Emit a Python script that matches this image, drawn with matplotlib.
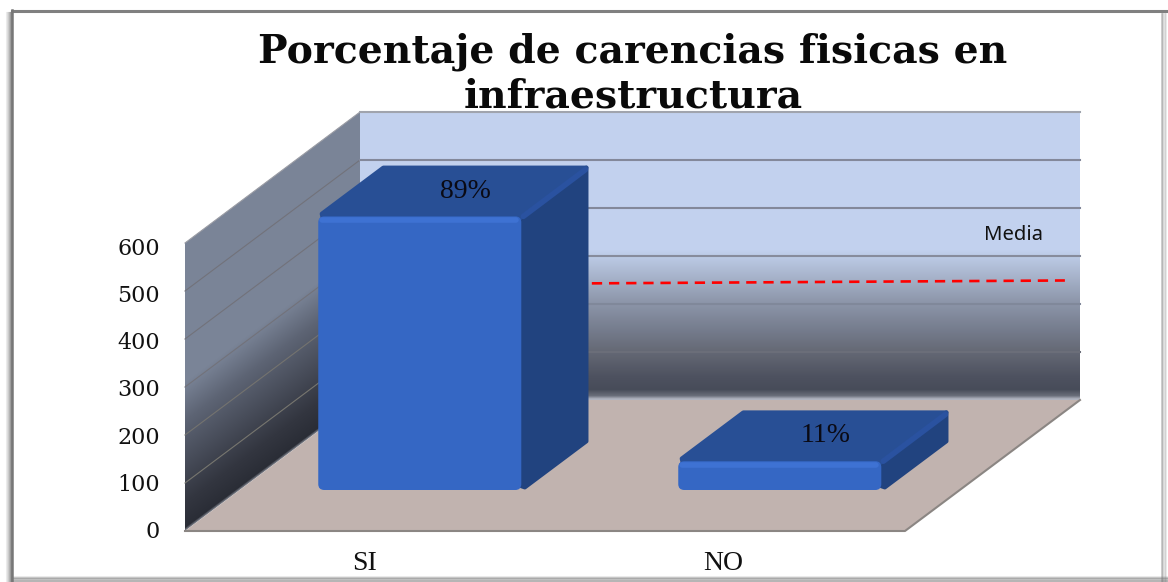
import matplotlib
matplotlib.use("Agg")

import matplotlib.pyplot as plt
import numpy as np
from matplotlib.colors import to_rgb
from matplotlib.patches import FancyBboxPatch, Polygon

cats = ["SI", "NO"]
vals = [570, 60]
labs = ["89%", "11%"]
ticks = [0, 100, 200, 300, 400, 500, 600]
media_x = [0.644, 1.958]
media_v = [243, 249]
title = "Porcentaje de carencias fisicas en\ninfraestructura"

# oblique projection of the fake 3d box, all in image pixels
x0, y0 = 185, 531
cw = 360
vs = 0.48
dx, dy = 175, -131
bw = 0.564
z0, z1 = 0.313, 0.685
W, H = 1168, 582


def pr(c, v, z=0.0):
    return x0 + c * cw + z * dx, y0 - v * vs + z * dy


def ramp(h, st):
    a = np.array([s[0] for s in st], dtype=float)
    c = np.array([to_rgb(s[1]) for s in st])
    return np.dstack([np.interp(h, a, c[:, i]) for i in range(3)])


fig = plt.figure(figsize=(W / 100, H / 100), dpi=100)
ax = fig.add_axes([0, 0, 1, 1])
ax.axis("off")

xx, yy = np.meshgrid(np.arange(W) + 0.5, np.arange(H) + 0.5)

# back wall
back_st = [(-5, "#c8ccd6"), (3, "#a8acb8"), (9, "#6a6e7a"), (22, "#474c59"), (50, "#4e5260"), (104, "#666a76"),
           (146, "#757c8d"), (208, "#8f98ac"), (300, "#bccbe6"), (312, "#c2d1ee"), (620, "#c2d1ee")]
hb = (y0 + dy - yy) / vs
im = ax.imshow(ramp(hb, back_st), extent=(0, W, H, 0), zorder=1, interpolation="bilinear")
im.set_clip_path(Polygon([pr(0, 0, 1), pr(2, 0, 1), pr(2, 600, 1), pr(0, 600, 1)], transform=ax.transData))

# left wall
left_st = [(0, "#8a8e98"), (7, "#2a2d36"), (60, "#333640"), (230, "#5d6474"), (310, "#7a8497"), (620, "#7a8497")]
hl = (y0 + (xx - x0) * dy / dx - yy) / vs
im = ax.imshow(ramp(hl, left_st), extent=(0, W, H, 0), zorder=1, interpolation="bilinear")
im.set_clip_path(Polygon([pr(0, 0, 0), pr(0, 0, 1), pr(0, 600, 1), pr(0, 600, 0)], transform=ax.transData))

# floor
ax.add_patch(Polygon([pr(0, 0, 0), pr(2, 0, 0), pr(2, 0, 1), pr(0, 0, 1)], fc="#c1b3af", ec="none", zorder=2))
fx, fy = zip(pr(0, 0, 0), pr(2, 0, 0), pr(2, 0, 1))
ax.plot(fx, fy, color="#8b8683", lw=1.5, zorder=2.5)

# gridlines
side_col = {100: "#77766f", 200: "#74736f", 300: "#72727a", 400: "#72727a", 500: "#72727a", 600: "#9a9ca4"}
back_col = {100: "#6b6e79", 200: "#80889a", 300: "#878c9c", 400: "#83889a", 500: "#83889a", 600: "#a0a4ad"}
for t in ticks[1:]:
    a, b, c = pr(0, t, 0), pr(0, t, 1), pr(2, t, 1)
    ax.plot([a[0], b[0]], [a[1], b[1]], color=side_col[t], lw=0.8, zorder=3)
    ax.plot([b[0], c[0]], [b[1], c[1]], color=back_col[t], lw=1.5, zorder=3)

# media line
mx, my = zip(pr(media_x[0], media_v[0], 1), pr(media_x[1], media_v[1], 1))
ax.plot(mx, my, color="#ff0000", lw=1.9, dashes=(3.9, 2.6), zorder=4)
ax.text(1014, 235, "Media", family="Noto Sans", fontsize=14.6, ha="center", va="center", color="#111111", zorder=6)

# bars, hidden corners of the faces tuck under the rounded front
for i, v in enumerate(vals):
    c0 = i + 0.5 - bw / 2
    c1 = i + 0.5 + bw / 2
    ax.add_patch(Polygon([pr(c1 - 0.015, v - 12, z0), pr(c1, v, z0 + 0.02), pr(c1, v, z1), pr(c1, 0, z1),
                          pr(c1, 0, z0 + 0.02), pr(c1 - 0.015, 12, z0)], fc="#21437f",
                         ec="#21437f", lw=3, joinstyle="round", zorder=5))
    ax.add_patch(Polygon([pr(c0 + 0.015, v - 12, z0), pr(c1 - 0.015, v - 12, z0), pr(c1, v, z0 + 0.02), pr(c1, v, z1),
                          pr(c0, v, z1), pr(c0, v, z0 + 0.02)], fc="#284f95",
                         ec="#284f95", lw=3, joinstyle="round", zorder=5.1))
    p, q = pr(c1, v, z0), pr(c1, v, z1)
    ax.plot([p[0] + 2, q[0] - 1], [p[1], q[1] + 2], color="#2a52a0", lw=4, solid_capstyle="round", zorder=5.2)

    l, t = pr(c0, v, z0)
    r, b = pr(c1, 0, z0)
    ax.add_patch(FancyBboxPatch((l, t), r - l, b - t, boxstyle="round,pad=0,rounding_size=6", fc="#3567c4",
                                ec="none", zorder=5.3))
    ax.plot([l + 4, r - 5], [t + 4, t + 4], color="#3e72d3", lw=4, solid_capstyle="round", zorder=5.4)

    tx, ty = pr(i + 0.5, v, (z0 + z1) / 2)
    ax.text(tx + 13, ty - 1, labs[i], family="Liberation Serif", fontsize=20, ha="center", va="center",
            color="#0a0a14", zorder=6)

# axis labels
for t in ticks:
    ax.text(160, 532 - t * 0.472, str(t), family="DejaVu Serif", fontsize=16, ha="right", va="center",
            color="#111111", zorder=6)
for i, s in enumerate(cats):
    ax.text(x0 + (i + 0.5) * cw - i * 2, 564, s, family="Liberation Serif", fontsize=20, ha="center", va="center",
            color="#111111", zorder=6)

ax.text(633, 108, title, family="DejaVu Serif", weight="bold", fontsize=28.4, ha="center", va="baseline",
        linespacing=1.23, color="#0a0a0a", zorder=7)

# picture frame with soft shadow
for k, al in enumerate([0.1, 0.18, 0.28, 0.4, 0.55, 0.65]):
    ax.plot([6 + k, 6 + k], [12, H], color="#555555", lw=0.8, alpha=al, zorder=8)
for k, al in enumerate([0.5, 0.4, 0.3, 0.2]):
    ax.plot([1161.5 + k * 1.5, 1161.5 + k * 1.5], [14, H], color="#888888", lw=1.2, alpha=al, zorder=8)
for k, al in enumerate([0.2, 0.4, 0.6, 0.7]):
    ax.plot([12, W], [576.5 + k * 1.4, 576.5 + k * 1.4], color="#777777", lw=1.1, alpha=al, zorder=8)
ax.plot([12, W], [10.5, 10.5], color="#808080", lw=2.2, zorder=8)
ax.plot([12, 12], [10, H], color="#777777", lw=1.8, zorder=8)

ax.set_xlim(0, W)
ax.set_ylim(H, 0)
fig.savefig("out.png", dpi=100, facecolor="white")
plt.close()
